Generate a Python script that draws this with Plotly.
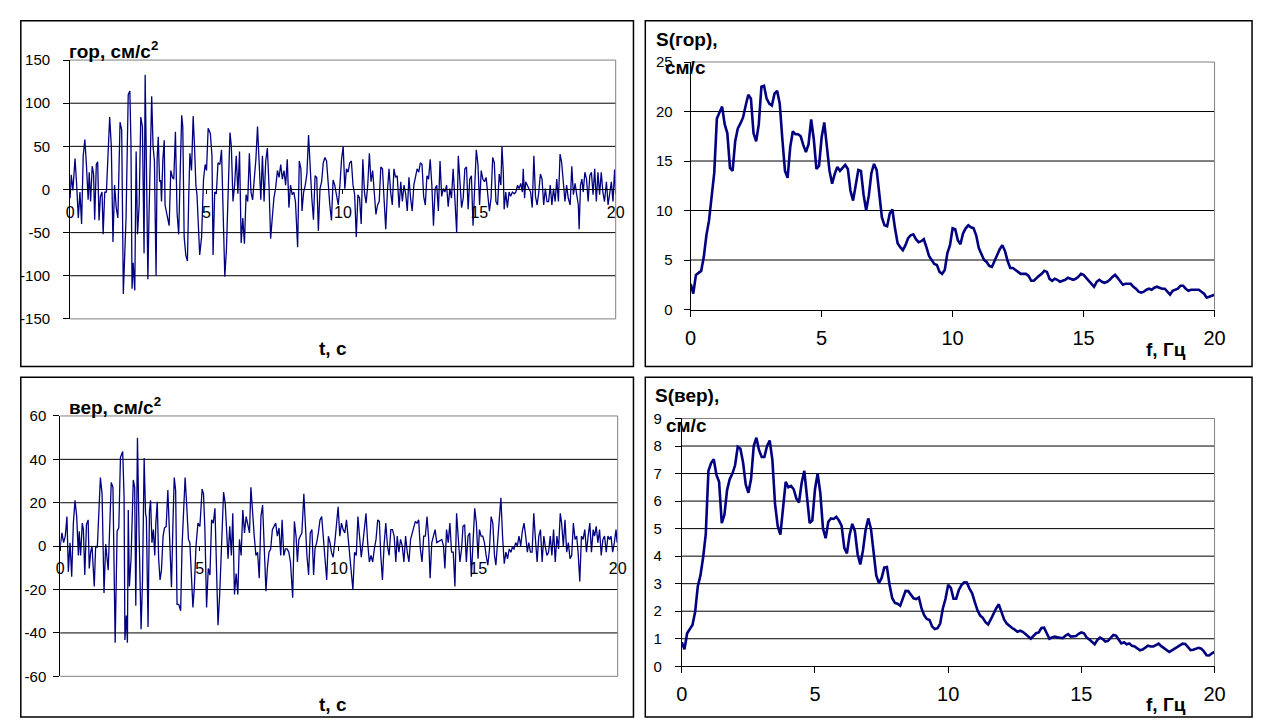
import plotly.graph_objects as go

W, H = 1266, 727

# ---- horizontal accelerogram, cm/s^2 ----
t_hor = [0.00, 0.04, 0.10, 0.13, 0.18, 0.24, 0.30, 0.36, 0.42, 0.48,
         0.54, 0.60, 0.66, 0.70, 0.75, 0.81, 0.86, 0.90, 0.96, 1.01,
         1.06, 1.11, 1.17, 1.21, 1.27, 1.33, 1.45, 1.51, 1.57, 1.63,
         1.69, 1.75, 1.83, 1.89, 1.95, 2.05, 2.13, 2.19, 2.23, 2.27,
         2.31, 2.37, 2.42, 2.47, 2.53, 2.59, 2.65, 2.71, 2.75, 2.80,
         2.85, 2.89, 2.99, 3.04, 3.09, 3.15, 3.19, 3.23, 3.28, 3.32,
         3.35, 3.40, 3.45, 3.48, 3.53, 3.58, 3.63, 3.69, 3.75, 3.80,
         3.86, 3.92, 3.98, 4.04, 4.09, 4.13, 4.18, 4.24, 4.30, 4.35,
         4.39, 4.45, 4.51, 4.56, 4.61, 4.65, 4.70, 4.75, 4.82, 4.89,
         4.95, 5.00, 5.06, 5.14, 5.20, 5.24, 5.30, 5.36, 5.42, 5.49,
         5.55, 5.61, 5.67, 5.73, 5.79, 5.86, 5.91, 5.97, 6.03, 6.09,
         6.15, 6.21, 6.27, 6.33, 6.39, 6.45, 6.51, 6.57, 6.63,
         6.69, 6.75, 6.81, 6.87, 6.93, 6.99, 7.05, 7.11, 7.17, 7.23,
         7.29, 7.35, 7.41, 7.47, 7.53, 7.60, 7.66, 7.72, 7.78, 7.84,
         7.90, 7.96, 8.02, 8.08, 8.14, 8.20, 8.26, 8.34, 8.40, 8.46,
         8.50, 8.56, 8.62, 8.68, 8.74, 8.80, 8.86, 8.92, 8.98, 9.04,
         9.10, 9.16, 9.22, 9.28, 9.34, 9.40, 9.46, 9.52, 9.58, 9.64,
         9.70, 9.77, 9.83, 9.89, 9.95, 10.01, 10.07, 10.13, 10.19, 10.25,
         10.31, 10.37, 10.43, 10.49, 10.55, 10.61, 10.67, 10.73, 10.79, 10.85,
         10.91, 10.97, 11.03, 11.09, 11.15, 11.21, 11.27, 11.33, 11.39, 11.45,
         11.51, 11.57, 11.63, 11.69, 11.75, 11.81, 11.87, 11.93, 11.99, 12.06,
         12.12, 12.18, 12.24, 12.30, 12.36, 12.42, 12.48, 12.54, 12.60, 12.66,
         12.72, 12.78, 12.84, 12.90, 12.96, 13.02, 13.08, 13.14, 13.20, 13.26,
         13.32, 13.38,
         13.44, 13.50, 13.56, 13.62, 13.68, 13.74, 13.80, 13.86, 13.92, 13.98,
         14.04, 14.11, 14.17, 14.23, 14.29, 14.35, 14.41, 14.47, 14.53, 14.59,
         14.65, 14.71, 14.77, 14.83, 14.89, 14.95, 15.01, 15.07, 15.13, 15.19,
         15.25, 15.31, 15.37, 15.43, 15.49, 15.55, 15.61, 15.67, 15.73, 15.79,
         15.83, 15.88, 15.91, 15.97, 16.03, 16.09, 16.15, 16.21, 16.28, 16.34,
         16.40, 16.46, 16.52, 16.58, 16.61, 16.66, 16.70, 16.76, 16.82, 16.88,
         16.94, 17.00, 17.06, 17.12, 17.18, 17.24, 17.30, 17.36, 17.42, 17.48,
         17.54, 17.60, 17.66, 17.72, 17.78, 17.84, 17.90, 17.96, 18.02, 18.08,
         18.14, 18.20, 18.26, 18.33, 18.39, 18.45, 18.51, 18.57, 18.63, 18.66,
         18.71, 18.76, 18.81, 18.87, 18.93, 18.99, 19.05, 19.11, 19.17, 19.23,
         19.29, 19.35, 19.41, 19.47, 19.53, 19.59, 19.66, 19.72, 19.78, 19.84,
         19.90, 19.96, 20.00]
a_hor = [-10, 17, -1, 11, 36, 5, -33, -3, -40, 39,
         58, 27, -12, 20, -14, 27, 18, -35, 29, 32,
         -36, -8, -3, -52, -3, -3, 84, 50, -61, 5,
         -21, -33, 78, 69, -121, -33, 110, 114, 54, -115,
         -85, -117, 44, -52, -18, 84, 73, -74, 133, 20,
         -104, -33, 108, 50, 33, -100, 35, 61, 9, 11,
         -14, 35, 57, -18, -25, -33, -42, 22, 14, 12,
         67, -27, -52, 26, 86, 73, -55, -76, -83, -6,
         42, 22, 85, 50, 5, -6, -52, -76, -55, 12,
         29, 22, 71, 65, 39, -76, -3, -5, 31, 29,
         46, -36, -101, -70, -3, 66, 50, -14, 5, 39,
         -5, 44, -62, -33, -63, -6, -14, 42, -3,
         -12, 12, 35, 73, 20, -12, 39, -14, 33, 48,
         5, -57, -33, -10, 1, 22, 14, 29, 12, 22,
         5, 35, -21, 5, -6, -3, -14, -67, 33, 24,
         -25, -3, 5, 18, 63, 20, -10, -35, 16, 14,
         -48, 1, 9, 31, 37, 33, 5, -18, -36, 11,
         5, -6, -18, 5, 35, 50, 1, 24, 20, 31,
         33, 5, -6, -55, -6, -10, -40, 35, -3, -16,
         5, 42, 9, 22, -3, -29, -18, -14, 26, 24,
         -12, -46, -3, 24, -3, -18, 24, 14, 16, -21,
         9, -14, 5, -5, -25, 14, -10, -25, 5, 16,
         24, 20, 31, 29, -8, -18, 16, 12, 35, 5,
         -42, 1,
         5, -25, 33, -8, 1, -3, 5, -20, 1, -10,
         24, -14, -50, 39, 1, -21, -10, 24, 26, -23,
         12, 16, -42, 5, 46, 29, -18, 22, 12, 9,
         14, -6, -25, -10, 37, 31, -14, -18, 18, 5,
         50, 20, -23, -3, -21, -3, -8, -3, -5, -3,
         5, 1, 7, -3, 24, -10, 9, 5, 1, -3,
         -21, 39, -8, -18, -3, 18, 12, -18, 1, -14,
         -14, 5, -18, 1, -14, 12, -14, 41, 31, 9,
         -14, 5, -10, -18, 27, -6, 7, -6, -18, -46,
         5, 12, -3, 20, 12, -14, 16, 20, -6, 24,
         -14, 20, -6, 20, -3, -14, 9, -18, -3, 9,
         -14, 23, -6]

# ---- vertical accelerogram, cm/s^2 ----
t_ver = [0.00, 0.06, 0.12, 0.18, 0.24, 0.29, 0.35, 0.41, 0.47, 0.53,
         0.59, 0.65, 0.68, 0.73, 0.79, 0.83, 0.88, 0.94, 1.00, 1.04,
         1.09, 1.14, 1.22, 1.27, 1.33, 1.44, 1.50, 1.57, 1.63, 1.68,
         1.72, 1.83, 1.89, 1.97, 2.04, 2.10, 2.16, 2.24, 2.29, 2.32,
         2.37, 2.41, 2.44, 2.48, 2.54, 2.62, 2.67, 2.71, 2.77, 2.83,
         2.90, 2.95, 3.01, 3.06, 3.09, 3.15, 3.20, 3.24, 3.29, 3.34,
         3.39, 3.43, 3.48, 3.53, 3.58, 3.63, 3.69, 3.74, 3.80, 3.86,
         3.93, 3.99, 4.05, 4.09, 4.14, 4.19, 4.25, 4.32, 4.37, 4.42,
         4.48, 4.54, 4.60, 4.65, 4.70, 4.76, 4.81, 4.87, 4.94, 5.01,
         5.09, 5.14, 5.19, 5.25, 5.31, 5.37, 5.43, 5.49, 5.55, 5.60,
         5.66, 5.72, 5.78, 5.86, 5.92, 5.98, 6.02, 6.08, 6.14, 6.19,
         6.25, 6.31, 6.37, 6.43, 6.49, 6.55, 6.61, 6.67,
         6.79, 6.84, 6.90, 6.96, 7.02, 7.08, 7.14, 7.20, 7.26, 7.32,
         7.38, 7.43, 7.49, 7.55, 7.61, 7.67, 7.73, 7.79, 7.85, 7.91,
         7.96, 8.02, 8.08, 8.14, 8.20, 8.26, 8.34, 8.40, 8.46, 8.51,
         8.56, 8.61, 8.67, 8.74, 8.79, 8.85, 8.91, 8.97, 9.03, 9.09,
         9.14, 9.20, 9.26, 9.32, 9.38, 9.44, 9.50, 9.56, 9.62, 9.68,
         9.73, 9.79, 9.85, 9.91, 9.97, 10.03, 10.09, 10.15, 10.21, 10.27,
         10.32, 10.38, 10.44, 10.50, 10.56, 10.62, 10.68, 10.74, 10.80, 10.86,
         10.92, 10.97, 11.03, 11.09, 11.15, 11.21, 11.27, 11.33, 11.39, 11.45,
         11.50, 11.56, 11.62, 11.68, 11.74, 11.80, 11.86, 11.92, 11.98, 12.04,
         12.09, 12.15, 12.21, 12.27, 12.33, 12.39, 12.45, 12.51, 12.57, 12.63,
         12.68, 12.74, 12.80, 12.86, 12.92, 12.98, 13.04, 13.10, 13.16, 13.22,
         13.27, 13.33, 13.39, 13.45, 13.51,
         13.69, 13.75, 13.80, 13.86, 13.92, 13.98, 14.04, 14.10, 14.16, 14.22,
         14.28, 14.34, 14.40, 14.45, 14.51, 14.57, 14.63, 14.69, 14.75, 14.81,
         14.87, 14.93, 14.99, 15.04, 15.10, 15.16, 15.22, 15.28, 15.34, 15.40,
         15.46, 15.52, 15.58, 15.63, 15.69, 15.75, 15.81, 15.87, 15.93, 15.99,
         16.05, 16.11, 16.17, 16.22, 16.28, 16.34, 16.40, 16.46, 16.52, 16.58,
         16.64, 16.70, 16.76, 16.81, 16.87, 16.93, 16.99, 17.05, 17.11, 17.17,
         17.23, 17.29, 17.35, 17.40, 17.46, 17.52, 17.58, 17.64, 17.70, 17.76,
         17.82, 17.88, 17.94, 17.99, 18.05, 18.11, 18.17, 18.23, 18.29, 18.35,
         18.41, 18.47, 18.53, 18.58, 18.64, 18.70, 18.76, 18.82, 18.88, 18.94,
         19.00, 19.06, 19.12, 19.17, 19.23, 19.29, 19.35, 19.41, 19.47, 19.53,
         19.59, 19.65, 19.71, 19.76, 19.82, 19.88, 19.94, 19.98]
a_ver = [0.1, 6.1, 1.6, 4.6, 13.6, -11.8, 1.6, -14.1, 10.6, 21.1,
         13.6, -4.3, 6.9, -4.3, 10.6, 7.6, -13.3, 9.9, 12.1, -10.3,
         -2.8, 0.1, -18.6, 0.1, -0.6, 31.6, 24.1, -21.6, 0.9, -5.8,
         -11.1, 29.3, 27.1, -44.5, 6.9, 8.4, 40.9, 43.6, 22.6, -43.3,
         -32.0, -44.5, 16.6, -18.6, -5.8, 30.5, 27.1, -27.5, 49.9, 4.6,
         -38.3, -16.3, 40.6, 15.1, 12.9, -37.3, 15.9, 21.1, 1.6, 7.6,
         -4.3, 10.6, 20.4, -5.8, -15.6, -11.1, 4.6, 8.4, 9.1, 25.9,
         0.1, -18.9, 13.6, 31.6, 25.6, -26.8, -26.8, -29.8, 0.1, 15.9,
         31.6, 18.1, 3.1, 1.6, -12.6, -28.3, -19.3, 0.1, 10.6, 9.1,
         26.3, 24.1, 7.6, -28.3, -10.3, -13.3, 12.1, 10.6, 17.4, -14.8,
         -36.5, -22.3, -1.3, 24.9, 19.6, -1.3, -5.8, 9.1, -4.3, 15.1,
         -22.3, -12.6, -22.3, 3.1, -4.3, 16.6, 6.1, 13.6,
         6.1, 27.1, 13.6, 4.6, -4.3, -2.8, -14.8, 13.6, 18.9, -1.3,
         -20.8, -10.3, -2.8, -1.3, 7.6, 9.1, 10.6, 4.6, 8.4, -4.3,
         12.1, -4.3, -1.3, -1.3, -2.8, -7.3, -23.8, 11.4, 4.6, -7.3,
         3.1, 4.6, 6.1, 24.1, 9.1, -4.3, -13.3, 6.1, 7.6, -13.3,
         -1.3, 1.6, 6.1, 12.1, 13.6, 4.6, -4.3, -15.6, 4.6, 1.6,
         -2.8, -5.1, 1.6, 11.4, 18.1, 4.6, 10.6, 7.6, 6.1, 12.1,
         4.6, -1.3, -13.3, -20.1, -2.8, -4.3, 13.6, 4.6, -5.1, 1.6,
         7.6, 15.1, 1.6, -7.3, -4.3, -7.3, -1.3, 3.1, 12.1, 11.4,
         -4.3, -15.6, 0.9, 10.6, 0.1, -4.3, 7.6, 7.6, 4.6, -7.3,
         4.6, -2.8, 3.1, 0.1, -7.3, 4.6, -2.8, -7.3, 3.1, 6.1,
         7.6, 11.4, 10.6, 12.1, -1.3, -7.3, 4.6, 4.6, 13.6, 3.1,
         -14.8, 1.6, 4.6, 7.6, 1.6,
         3.1, 0.1, -10.3, 7.6, 1.6, 10.6, -2.8, -2.8, -18.6, 15.1,
         3.1, -7.3, -1.3, 9.1, 9.9, -7.3, 4.6, 6.1, -14.1, 3.1,
         17.4, 10.6, -5.8, 7.6, 4.6, 4.6, 1.6, -4.3, -8.8, -1.3,
         13.6, 10.6, -4.3, -8.8, 3.1, 10.6, 22.3, 4.6, -8.1, -2.8,
         -5.8, -1.3, -2.8, -0.6, -1.3, 1.6, 0.1, 4.6, 0.1, 6.9,
         10.6, 4.6, -2.8, 1.6, -2.8, -2.8, 15.1, 3.1, -7.3, 4.6,
         7.6, -7.3, 4.6, 0.1, -4.3, -2.8, 4.6, -4.3, 7.6, -7.3,
         4.6, -1.3, 15.1, 10.6, 0.1, 12.1, -2.8, 1.6, -5.8, -4.3,
         10.6, 3.1, 4.6, -2.8, -16.3, 4.6, 3.1, 7.6, -2.8, 4.6,
         10.6, -2.8, 7.6, 4.6, 9.1, 1.6, 7.6, -4.3, 3.1, 4.6,
         -2.8, 4.6, 3.1, 4.6, -2.8, 1.6, 7.6, 1.6]

# ---- Fourier amplitude spectra, cm/s, on a 0.1 Hz grid ----
freq_hz = [round(0.1 * k, 1) for k in range(201)]
s_hor = [2.6, 1.6, 3.5, 3.7, 3.9, 5.3, 7.5, 9.0, 11.6, 13.8,
         19.3, 19.9, 20.5, 18.7, 17.8, 14.3, 14.0, 17.0, 18.3, 18.8,
         19.4, 20.6, 21.7, 21.3, 17.8, 17.0, 18.7, 22.5, 22.6, 21.3,
         20.8, 20.6, 21.8, 22.1, 20.8, 17.2, 14.0, 13.3, 16.4, 18.0,
         17.7, 17.7, 17.5, 16.6, 15.9, 16.7, 19.2, 17.2, 14.2, 14.5,
         17.4, 18.9, 16.5, 14.0, 12.7, 13.7, 14.4, 14.0, 14.3, 14.6,
         14.2, 12.0, 11.0, 12.6, 14.1, 14.0, 11.6, 10.0, 11.5, 13.8,
         14.7, 14.1, 11.8, 9.3, 8.5, 8.4, 9.7, 10.1, 8.2, 6.7,
         6.3, 6.0, 6.5, 7.2, 7.5, 7.6, 7.1, 6.8, 6.9, 7.1,
         6.3, 5.4, 5.0, 4.6, 4.5, 3.8, 3.6, 4.0, 5.7, 6.5,
         8.2, 8.1, 7.0, 6.6, 7.7, 8.2, 8.5, 8.3, 8.2, 7.5,
         6.2, 5.5, 5.0, 4.8, 4.4, 4.3, 4.9, 5.6, 6.1, 6.5,
         5.9, 4.9, 4.2, 4.2, 4.0, 3.8, 3.6, 3.6, 3.6, 3.4,
         2.9, 2.9, 3.2, 3.4, 3.6, 3.9, 3.8, 3.1, 2.9, 3.1,
         3.0, 2.8, 2.9, 3.0, 3.2, 3.1, 3.0, 3.1, 3.3, 3.6,
         3.5, 3.2, 2.9, 2.7, 2.3, 2.8, 3.0, 2.8, 2.7, 2.8,
         3.0, 3.3, 3.5, 3.2, 2.8, 2.5, 2.6, 2.6, 2.6, 2.3,
         2.1, 1.8, 1.7, 1.8, 2.0, 2.1, 2.0, 2.2, 2.3, 2.2,
         2.1, 2.1, 1.8, 1.5, 1.9, 2.0, 2.1, 2.4, 2.4, 2.1,
         1.9, 2.0, 2.0, 2.0, 2.0, 1.8, 1.6, 1.2, 1.3, 1.4,
         1.5]
s_ver = [0.87, 0.62, 1.2, 1.33, 1.5, 1.97, 2.9, 3.3, 3.95, 4.8,
         7.1, 7.38, 7.52, 6.95, 6.7, 5.2, 5.5, 6.4, 6.8, 7.0,
         7.3, 7.97, 7.9, 7.4, 6.6, 6.3, 6.8, 8.0, 8.3, 7.85,
         7.6, 7.6, 8.0, 8.2, 7.5, 5.9, 5.1, 4.78, 5.7, 6.7,
         6.5, 6.55, 6.43, 6.1, 5.95, 6.67, 7.1, 6.1, 5.2, 5.3,
         6.43, 7.0, 6.3, 5.0, 4.65, 5.25, 5.37, 5.35, 5.43, 5.3,
         5.1, 4.3, 4.1, 4.78, 5.17, 4.9, 4.07, 3.7, 4.2, 4.95,
         5.37, 5.0, 4.1, 3.3, 3.02, 3.2, 3.58, 3.6, 2.95, 2.47,
         2.3, 2.27, 2.2, 2.5, 2.74, 2.73, 2.6, 2.47, 2.44, 2.5,
         2.1, 1.85, 1.72, 1.68, 1.44, 1.35, 1.38, 1.55, 2.1, 2.45,
         2.96, 2.85, 2.45, 2.45, 2.77, 2.95, 3.05, 3.04, 2.82, 2.65,
         2.33, 2.03, 1.84, 1.76, 1.6, 1.52, 1.7, 1.93, 2.1, 2.25,
         2.0, 1.7, 1.55, 1.46, 1.39, 1.33, 1.25, 1.29, 1.25, 1.17,
         1.08, 1.0, 1.1, 1.2, 1.23, 1.39, 1.4, 1.17, 1.0, 1.05,
         1.08, 1.05, 1.03, 1.02, 1.11, 1.17, 1.08, 1.1, 1.1, 1.18,
         1.23, 1.2, 1.04, 0.97, 0.88, 0.8, 0.95, 1.04, 0.99, 0.9,
         0.92, 1.03, 1.14, 1.11, 0.95, 0.83, 0.87, 0.8, 0.83, 0.74,
         0.72, 0.64, 0.58, 0.61, 0.67, 0.75, 0.72, 0.72, 0.77, 0.82,
         0.73, 0.67, 0.6, 0.52, 0.58, 0.64, 0.68, 0.76, 0.82, 0.81,
         0.69, 0.59, 0.6, 0.64, 0.67, 0.64, 0.54, 0.4, 0.39, 0.47,
         0.52]

x_ticks = [0, 5, 10, 15, 20]
yticks_hor = [-150, -100, -50, 0, 50, 100, 150]
yticks_ver = [-60, -40, -20, 0, 20, 40, 60]
yticks_s_hor = [0, 5, 10, 15, 20, 25]
yticks_s_ver = [0, 1, 2, 3, 4, 5, 6, 7, 8, 9]

NAVY = "#000080"
FONT = "Liberation Sans, Arial, sans-serif"


def px_x(p):
    return p / W


def px_y(p):
    return 1 - p / H


# plot-area rectangles in pixels: left, right, top, bottom; y tick-label gap
panels = [
    dict(n="", box=(65, 618, 52.3, 317.3), yt=yticks_hor, kind="acc", ygap=10),
    dict(n="2", box=(694, 1225, 54.3, 307.7), yt=yticks_s_hor, kind="spec", ygap=8),
    dict(n="3", box=(55, 620, 416.7, 683.3), yt=yticks_ver, kind="acc", ygap=4),
    dict(n="4", box=(685, 1225, 419.3, 673.0), yt=yticks_s_ver, kind="spec", ygap=10),
]

fig = go.Figure()
series = [(t_hor, a_hor, 1.3), (freq_hz, s_hor, 2.6), (t_ver, a_ver, 1.3), (freq_hz, s_ver, 2.6)]
for p, (xs, ys, lw) in zip(panels, series):
    fig.add_trace(go.Scatter(x=xs, y=ys, mode="lines", line=dict(color=NAVY, width=lw),
                             xaxis="x" + p["n"], yaxis="y" + p["n"], hoverinfo="skip"))

layout = dict(width=W, height=H, margin=dict(l=0, r=0, t=0, b=0),
              paper_bgcolor="white", plot_bgcolor="white", showlegend=False,
              font=dict(family=FONT, color="black"))
shapes = []
for p in panels:
    left, right, top, bottom = p["box"]
    yt = p["yt"]
    xd = [px_x(left), px_x(right)]
    yd = [px_y(bottom), px_y(top)]
    xn, yn = "xaxis" + p["n"], "yaxis" + p["n"]
    xr, yr = "x" + p["n"], "y" + p["n"]
    layout[yn] = dict(domain=yd, anchor=xr, range=[yt[0], yt[-1]], tickvals=yt,
                      ticktext=[str(v) for v in yt], showgrid=False, zeroline=False,
                      showline=True, linecolor="black", linewidth=1,
                      ticks="outside", ticklen=6, tickcolor="black",
                      tickfont=dict(size=15), ticklabelstandoff=p["ygap"], fixedrange=True)
    xa = dict(domain=xd, range=[0, 20], tickvals=x_ticks,
              ticktext=[str(v) for v in x_ticks], showgrid=False, zeroline=False,
              showline=True, linecolor="black", linewidth=1,
              ticks="outside", tickcolor="black", fixedrange=True)
    if p["kind"] == "acc":
        zero_pos = yd[0] + (0 - yt[0]) / (yt[-1] - yt[0]) * (yd[1] - yd[0])
        xa.update(anchor="free", position=zero_pos, ticklen=4,
                  tickfont=dict(size=16), ticklabelstandoff=4)
    else:
        xa.update(anchor=yr, ticklen=6, tickfont=dict(size=20), ticklabelstandoff=4)
    layout[xn] = xa
    # interior horizontal gridlines
    for v in yt[1:-1]:
        if p["kind"] == "spec" or v != 0:
            shapes.append(dict(type="line", xref=xr + " domain", yref=yr, x0=0, x1=1,
                               y0=v, y1=v, line=dict(color="black", width=1), layer="below"))
    # grey plot-area frame (top, right, bottom for the accelerograms)
    frame = [(0, 1, 1, 1), (1, 1, 0, 1)]
    if p["kind"] == "acc":
        frame.append((0, 1, 0, 0))
    for x0, x1, y0, y1 in frame:
        shapes.append(dict(type="line", xref=xr + " domain", yref=yr + " domain",
                           x0=x0, x1=x1, y0=y0, y1=y1,
                           line=dict(color="#808080", width=1), layer="above"))

# outer frames of the four charts
for l, r, t, b in [(15, 636, 12, 366), (648, 1263, 12, 366), (15, 636, 377, 725), (648, 1263, 377, 725)]:
    shapes.append(dict(type="rect", xref="paper", yref="paper",
                       x0=px_x(l), x1=px_x(r), y0=px_y(b), y1=px_y(t),
                       line=dict(color="black", width=1.5), fillcolor="rgba(0,0,0,0)"))
layout["shapes"] = shapes

labels = [
    ("<b>гор, см/с<sup>2</sup></b>", 62, 42, "left"),
    ("<b>t, с</b>", 331, 348, "center"),
    ("<b>S(гор),</b>", 690, 31, "center"),
    ("<b>см/с</b>", 689, 60, "center"),
    ("<b>f, Гц</b>", 1176, 349, "center"),
    ("<b>вер, см/с<sup>2</sup></b>", 62, 407, "left"),
    ("<b>t, с</b>", 331, 712, "center"),
    ("<b>S(вер),</b>", 690, 396, "center"),
    ("<b>см/с</b>", 690, 426, "center"),
    ("<b>f, Гц</b>", 1176, 712, "center"),
]
layout["annotations"] = [
    dict(text=txt, x=px_x(x), y=px_y(y), xref="paper", yref="paper", xanchor=anc,
         yanchor="middle", showarrow=False, font=dict(size=19, family=FONT, color="black"))
    for txt, x, y, anc in labels
]
fig.update_layout(**layout)
fig.write_html("out.html")
